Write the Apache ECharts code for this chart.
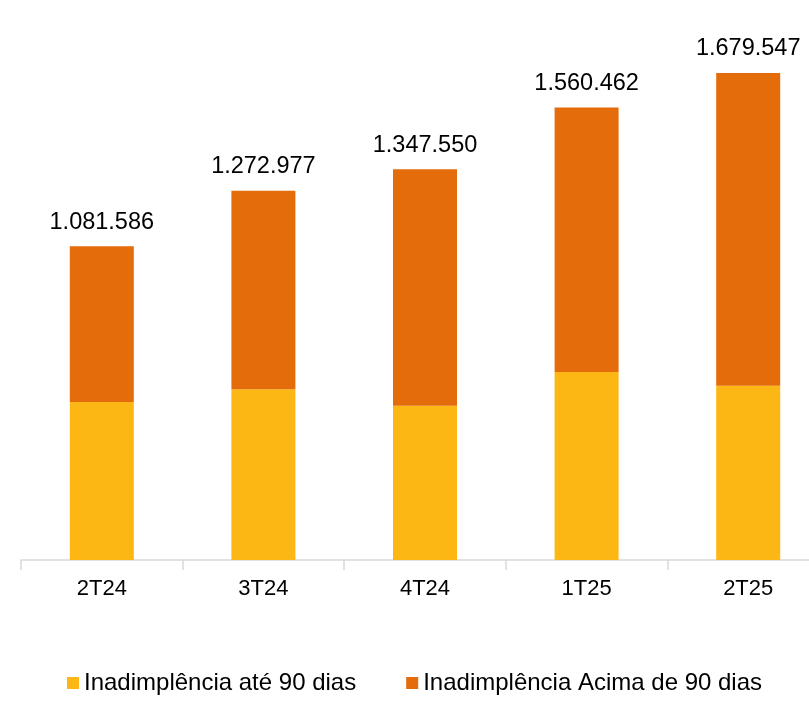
<!DOCTYPE html>
<html>
<head>
<meta charset="utf-8">
<script src="https://cdn.jsdelivr.net/npm/echarts@6/dist/echarts.min.js"></script>
<style>html,body{margin:0;padding:0;background:#fff;overflow:hidden;width:809px;height:702px}#c{width:830px;height:702px}</style>
</head>
<body>
<div id="c"></div>
<script>
var categories = ['2T24', '3T24', '4T24', '1T25', '2T25'];
var totals = [1081586, 1272977, 1347550, 1560462, 1679547];
var ate90 = [545000, 589000, 532000, 648000, 601000];
var acima90 = totals.map(function (t, i) { return t - ate90[i]; });
var seriesNames = ['Inadimplência até 90 dias', 'Inadimplência Acima de 90 dias'];

function fmt(v) { return String(v).replace(/\B(?=(\d{3})+(?!\d))/g, '.'); }

var chart = echarts.init(document.getElementById('c'));
chart.setOption({
  animation: false,
  textStyle: { fontFamily: 'Liberation Sans, Arial, sans-serif' },
  grid: { left: 21, right: 1, top: 0, bottom: 142, containLabel: false },
  legend: {
    bottom: 2, left: 62,
    itemWidth: 12, itemHeight: 12, itemGap: 50,
    icon: 'rect',
    textStyle: { fontSize: 24, color: '#000', fontFamily: 'Liberation Sans, Arial, sans-serif' },
    data: seriesNames
  },
  xAxis: {
    type: 'category', data: categories,
    axisLine: { lineStyle: { color: '#D9D9D9', width: 1.5 } },
    axisTick: { show: true, length: 10, lineStyle: { color: '#D9D9D9', width: 1.5 } },
    axisLabel: { color: '#000', fontSize: 22, margin: 18 }
  },
  yAxis: { type: 'value', min: 0, max: 1931000, show: false, splitLine: { show: false } },
  series: [
    { name: seriesNames[0], type: 'bar', stack: 'a', barWidth: 64, data: ate90,
      itemStyle: { color: '#FDB714' } },
    { name: seriesNames[1], type: 'bar', stack: 'a', barWidth: 64, data: acima90,
      itemStyle: { color: '#E46C0A' },
      label: { show: true, position: 'top', distance: 12, color: '#000', fontSize: 23.5,
        formatter: function (p) { return fmt(totals[p.dataIndex]); } } }
  ]
});
</script>
</body>
</html>
